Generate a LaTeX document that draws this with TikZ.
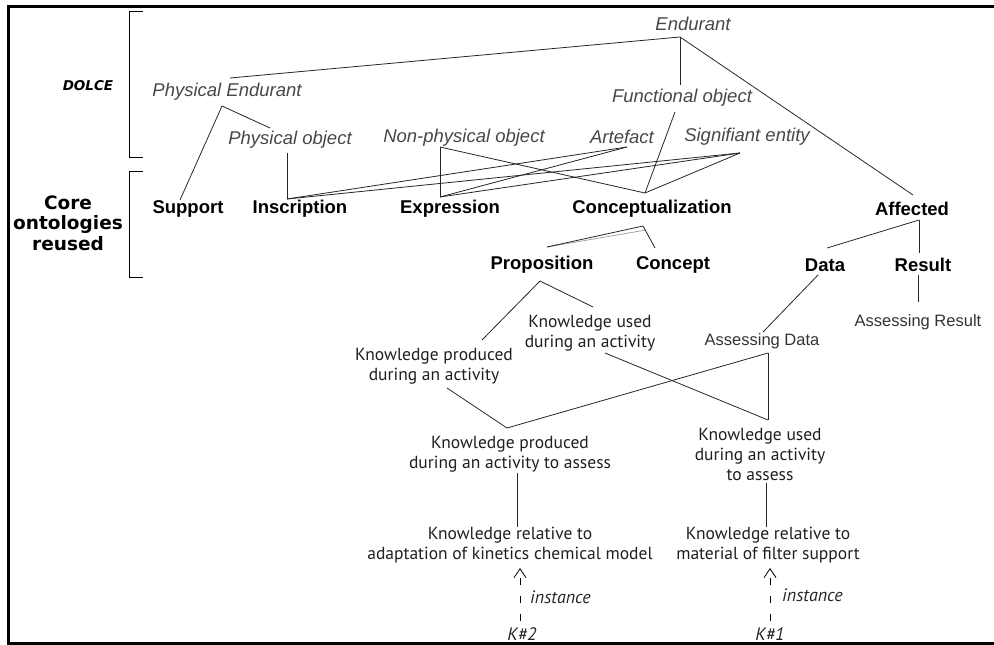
\documentclass[tikz,border=0pt]{standalone}
\usepackage{fontspec}
\usetikzlibrary{arrows.meta}
\newfontfamily\arialfont{Liberation Sans}
\newfontfamily\narrowfont{PT Sans}
\newfontfamily\wideboldfont{DejaVu Sans}

\tikzset{
  dolce/.style={font=\arialfont\itshape\fontsize{18.5}{21}\selectfont, text=black!72, inner sep=0pt},
  core/.style={font=\arialfont\bfseries\fontsize{18.5}{21}\selectfont, inner sep=0pt},
  know/.style={font=\narrowfont\fontsize{17.5}{20}\selectfont, align=center, inner sep=0pt, text=black!88},
  assess/.style={font=\arialfont\fontsize{16.5}{19}\selectfont, text=black!80, inner sep=0pt},
  inst/.style={font=\narrowfont\itshape\fontsize{18}{20}\selectfont, inner sep=0pt, text=black!85},
  link/.style={line width=0.8pt, black!85},
  instof/.style={line width=0.8pt, dash pattern=on 7pt off 11pt, -{Straight Barb[length=9pt,width=12pt]}}
}

\begin{document}
\begin{tikzpicture}[x=1pt,y=-1pt]
  \useasboundingbox (0,0) rectangle (994,645);
  % frame
  \draw[line width=3pt] (994,6) -- (8,6) -- (8,643) -- (994,643);

  % left brackets
  \node[font=\wideboldfont\bfseries\itshape\fontsize{13.5}{15}\selectfont, inner sep=0pt] (dolce) at (88,86) {DOLCE};
  \node[font=\wideboldfont\bfseries\fontsize{18.5}{20.5}\selectfont, align=center, inner sep=0pt] (coreonto) at (68,223) {Core\\ontologies\\reused};
  \draw[line width=1pt] (143,11) -- (129,11) -- (129,157) -- (143,157);
  \draw[line width=1pt] (143,171) -- (129,171) -- (129,277) -- (143,277);

  % DOLCE concepts
  \node[dolce] (endurant)   at (693,24)  {Endurant};
  \node[dolce] (pendurant)  at (227,92)  {Physical Endurant};
  \node[dolce] (fobject)    at (682,98)  {Functional object};
  \node[dolce] (pobject)    at (290,140) {Physical object};
  \node[dolce] (npobject)   at (464,138) {Non-physical object};
  \node[dolce] (artefact)   at (622,137) {Artefact};
  \node[dolce] (signifiant) at (747,137) {Signifiant entity};

  % core ontologies
  \node[core] (support)           at (188,209) {Support};
  \node[core] (inscription)       at (300,209) {Inscription};
  \node[core] (expression)        at (450,209) {Expression};
  \node[core] (conceptualization) at (652,209) {Conceptualization};
  \node[core] (affected)          at (912,209) {Affected};
  \node[core] (proposition)       at (542,265) {Proposition};
  \node[core] (concept)           at (673,265) {Concept};
  \node[core] (data)              at (825,265) {Data};
  \node[core] (result)            at (923,265) {Result};

  % knowledge
  \node[know] (kuda)  at (590,333) {Knowledge used\\during an activity};
  \node[know] (kpda)  at (434,366) {Knowledge produced\\during an activity};
  \node[assess] (adata)   at (762,341) {Assessing Data};
  \node[assess] (aresult) at (918,322) {Assessing Result};
  \node[know] (kpdaa) at (510,454) {Knowledge produced\\during an activity to assess};
  \node[know] (kudaa) at (760,454) {Knowledge used\\during an activity\\to assess};
  \node[know] (krelb) at (510,545) {Knowledge relative to\\adaptation of kinetics chemical model};
  \node[know] (krela) at (768,545) {Knowledge relative to\\material of filter support};
  \node[inst] (kb) at (522,634) {K\#2};
  \node[inst] (ka) at (770,634) {K\#1};

  % connection points
  \coordinate (endurant-s)          at (680,37);
  \coordinate (pendurant-n)         at (230,78);
  \coordinate (pendurant-s)         at (222,106);
  \coordinate (fobject-n)           at (680,85);
  \coordinate (fobject-s)           at (675,112);
  \coordinate (pobject-n)           at (270,128);
  \coordinate (pobject-s)           at (287,153);
  \coordinate (npobject-s)          at (440,147);
  \coordinate (artefact-s)          at (627,147);
  \coordinate (signifiant-s)        at (740,153);
  \coordinate (support-n)           at (180,200);
  \coordinate (inscription-n)       at (287,199);
  \coordinate (expression-n)        at (440,197);
  \coordinate (conceptualization-n) at (645,193);
  \coordinate (conceptualization-s) at (643,226);
  \coordinate (affected-n)          at (913,195);
  \coordinate (affected-s)          at (919,220);
  \coordinate (proposition-n)       at (547,247);
  \coordinate (proposition-s)       at (540,281);
  \coordinate (concept-n)           at (655,248);
  \coordinate (data-n)              at (827,248);
  \coordinate (data-s)              at (818,275);
  \coordinate (result-n)            at (919,253);
  \coordinate (result-s)            at (918,275);
  \coordinate (kuda-n)  at (593,307);
  \coordinate (kuda-s)  at (605,353);
  \coordinate (kpda-n)  at (482,340);
  \coordinate (kpda-s)  at (447,388);
  \coordinate (adata-n) at (763,332);
  \coordinate (adata-s) at (768,353);
  \coordinate (aresult-n) at (918,302);
  \coordinate (kpdaa-n) at (507,428);
  \coordinate (kpdaa-s) at (517,473);
  \coordinate (kudaa-n) at (768,420);
  \coordinate (kudaa-s) at (766,483);
  \coordinate (krelb-n) at (517,527);
  \coordinate (krelb-s) at (520,568);
  \coordinate (krela-n) at (766,527);
  \coordinate (krela-s) at (770,568);
  \coordinate (kb-n) at (520,621);
  \coordinate (ka-n) at (770,621);

  % subsumption links
  \draw[line width=0.8pt, black!35] (proposition-n) -- ([shift={(3,4)}]conceptualization-s);
  \path[link]
    (endurant-s) edge (pendurant-n)
                 edge (fobject-n)
                 edge (affected-n)
    (pendurant-s) edge (support-n)
                  edge (pobject-n)
    (pobject-s) edge (inscription-n)
    (inscription-n) edge (artefact-s)
                    edge (signifiant-s)
    (npobject-s) edge (expression-n)
                 edge (conceptualization-n)
    (expression-n) edge (artefact-s)
                   edge (signifiant-s)
    (conceptualization-n) edge (fobject-s)
                          edge (signifiant-s)
    (conceptualization-s) edge (proposition-n)
                          edge (concept-n)
    (affected-s) edge (data-n)
                 edge (result-n)
    (data-s) edge (adata-n)
    (result-s) edge (aresult-n)
    (proposition-s) edge (kuda-n)
                    edge (kpda-n)
    (kpdaa-n) edge (kpda-s)
              edge (adata-s)
    (kudaa-n) edge (kuda-s)
              edge (adata-s)
    (kpdaa-s) edge (krelb-n)
    (kudaa-s) edge (krela-n);

  % instances
  \draw[instof] (kb-n) -- (krelb-s);
  \draw[instof] (ka-n) -- (krela-s);
  \node[inst, anchor=west] (instb) at (530,597) {instance};
  \node[inst, anchor=west] (insta) at (782,595) {instance};
\end{tikzpicture}
\end{document}
